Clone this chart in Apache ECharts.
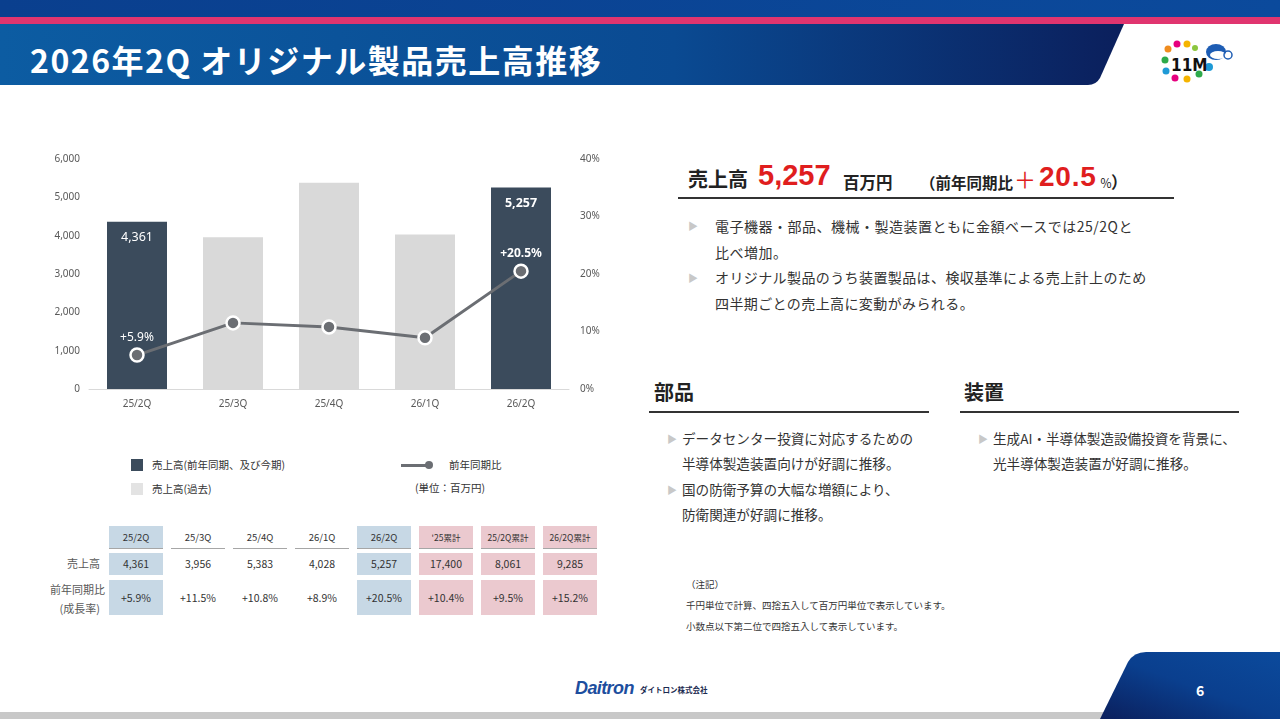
<!DOCTYPE html>
<html>
<head>
<meta charset="utf-8">
<script src="https://cdn.jsdelivr.net/npm/echarts@6/dist/echarts.min.js"></script>
<style>
  body { margin:0; width:1280px; height:719px; position:relative; overflow:hidden; background:#fff;
         font-family:"Noto Sans CJK JP","Noto Sans",sans-serif; color:#333; }
  .abs { position:absolute; white-space:nowrap; }
  #chart { position:absolute; left:0; top:0; width:640px; height:420px; }
  .tri { color:#c8c8c8; font-size:10px; }
  .cell { position:absolute; width:54px; text-align:center; color:#333; }
  .red { color:#e01e1e; font-family:'Liberation Sans','Noto Sans',sans-serif; }
</style>
</head>
<body>
<!-- header -->
<div class="abs" style="left:0;top:0;width:1280px;height:17px;background:linear-gradient(90deg,#0a3f8e,#0b4a9c);"></div>
<div class="abs" style="left:0;top:17px;width:1280px;height:7px;background:#e0356f;"></div>
<svg class="abs" style="left:0;top:24px" width="1130" height="62">
  <defs><linearGradient id="tg" x1="0" x2="1" y1="0" y2="0">
    <stop offset="0" stop-color="#0c5ca2"/><stop offset="0.6" stop-color="#0a4a92"/><stop offset="1" stop-color="#0b1f5c"/>
  </linearGradient></defs>
  <path d="M0,0 L1124,0 L1100,54 Q1096,61 1088,61 L0,61 Z" fill="url(#tg)"/>
</svg>
<div class="abs" style="left:30px;top:36px;font-size:32px;font-weight:bold;color:#fff;letter-spacing:1.5px;">2026年2Q オリジナル製品売上高推移</div>
<!-- logo -->
<svg class="abs" style="left:1158px;top:38px" width="80" height="46">
  <circle cx="10" cy="11" r="3.5" fill="#f08c1e"/><circle cx="19" cy="6" r="3.5" fill="#e6007e"/>
  <circle cx="29" cy="6" r="3.5" fill="#f5b400"/><circle cx="37" cy="10" r="3" fill="#8cc63e"/>
  <circle cx="7" cy="22" r="3.5" fill="#2eaa4a"/><circle cx="8" cy="33" r="3.5" fill="#1e9ad6"/>
  <circle cx="17" cy="40" r="3.5" fill="#e6007e"/><circle cx="29" cy="41" r="3.5" fill="#f5b400"/>
  <circle cx="41" cy="36" r="3.5" fill="#2eaa4a"/><circle cx="51" cy="29" r="4" fill="#1e9ad6"/>
  <text x="13" y="33" font-size="17" font-weight="bold" fill="#111" font-family="DejaVu Sans Condensed">11M</text>
  <ellipse cx="58" cy="14" rx="10" ry="8" fill="#1e5db4"/><ellipse cx="60" cy="17" rx="8" ry="4" fill="#fff"/>
  <circle cx="70" cy="17" r="4" fill="none" stroke="#1e5db4" stroke-width="1.5"/>
</svg>

<!-- chart -->
<div id="chart"></div>

<!-- legend -->
<div class="abs" style="left:131px;top:459px;width:12px;height:12px;background:#3b4b5c;"></div>
<div class="abs" style="left:152px;top:457px;font-size:10.5px;">売上高(前年同期、及び今期)</div>
<div class="abs" style="left:131px;top:483px;width:12px;height:12px;background:#e3e3e3;"></div>
<div class="abs" style="left:152px;top:481px;font-size:10.5px;">売上高(過去)</div>
<div class="abs" style="left:401px;top:464px;width:27px;height:2.5px;background:#6b6e73;"></div>
<div class="abs" style="left:425px;top:461px;width:8px;height:8px;border-radius:50%;background:#6b6e73;"></div>
<div class="abs" style="left:449px;top:457px;font-size:10.5px;">前年同期比</div>
<div class="abs" style="left:415px;top:480px;font-size:10.5px;">(単位：百万円)</div>

<!-- table -->
<div id="table"></div>

<!-- right text -->
<div class="abs" style="left:688px;top:164px;font-size:20px;font-weight:bold;color:#222;">売上高</div>
<div class="abs red" style="left:758px;top:159px;font-size:29px;font-weight:bold;">5,257</div>
<div class="abs" style="left:843px;top:170px;font-size:16.5px;font-weight:bold;color:#222;">百万円</div>
<div class="abs" style="left:920px;top:171px;font-size:15.5px;font-weight:bold;color:#222;">（前年同期比</div>
<div class="abs" style="left:1014px;top:162px;font-size:22px;color:#e01e1e;">＋</div>
<div class="abs red" style="left:1039px;top:161px;font-size:28px;font-weight:bold;letter-spacing:0.8px;">20.5</div>
<div class="abs" style="left:1100px;top:174px;font-size:12px;color:#222;">％</div>
<div class="abs" style="left:1111px;top:170px;font-size:16.5px;font-weight:bold;color:#222;">）</div>
<div class="abs" style="left:678px;top:197px;width:496px;height:2px;background:#333;"></div>

<div class="abs tri" style="left:688px;top:218px;">▶</div>
<div class="abs" style="left:715px;top:214px;font-size:14px;letter-spacing:0.5px;line-height:25.7px;">電子機器・部品、機械・製造装置ともに金額ベースでは25/2Qと<br>比べ増加。</div>
<div class="abs tri" style="left:688px;top:270px;">▶</div>
<div class="abs" style="left:715px;top:265px;font-size:14px;letter-spacing:0.4px;line-height:25.7px;">オリジナル製品のうち装置製品は、検収基準による売上計上のため<br>四半期ごとの売上高に変動がみられる。</div>

<div class="abs" style="left:654px;top:377px;font-size:20px;font-weight:bold;color:#222;">部品</div>
<div class="abs" style="left:649px;top:411px;width:280px;height:2px;background:#333;"></div>
<div class="abs" style="left:964px;top:377px;font-size:20px;font-weight:bold;color:#222;">装置</div>
<div class="abs" style="left:960px;top:411px;width:279px;height:2px;background:#333;"></div>

<div class="abs tri" style="left:667px;top:431px;">▶</div>
<div class="abs" style="left:682px;top:426px;font-size:13.6px;line-height:25.3px;">データセンター投資に対応するための<br>半導体製造装置向けが好調に推移。</div>
<div class="abs tri" style="left:667px;top:482px;">▶</div>
<div class="abs" style="left:682px;top:477px;font-size:13.6px;line-height:25.3px;">国の防衛予算の大幅な増額により、<br>防衛関連が好調に推移。</div>
<div class="abs tri" style="left:978px;top:431px;">▶</div>
<div class="abs" style="left:993px;top:426px;font-size:13.6px;line-height:25.3px;">生成AI・半導体製造設備投資を背景に、<br>光半導体製造装置が好調に推移。</div>

<div class="abs" style="left:686px;top:574px;font-size:9.5px;line-height:21px;color:#333;">（注記）<br>千円単位で計算、四捨五入して百万円単位で表示しています。<br>小数点以下第二位で四捨五入して表示しています。</div>

<!-- footer -->
<div class="abs" style="left:0;top:712px;width:1140px;height:7px;background:#c8c8c8;"></div>
<svg class="abs" style="left:1090px;top:650px" width="190" height="69">
  <defs><linearGradient id="fg" x1="0" x2="1" y1="1" y2="0">
    <stop offset="0" stop-color="#0b1f5c"/><stop offset="0.5" stop-color="#0a3f8e"/><stop offset="1" stop-color="#0b4a9c"/>
  </linearGradient></defs>
  <path d="M10,69 L38,12 Q44,2 56,2 L190,2 L190,69 Z" fill="url(#fg)"/>
</svg>
<div class="abs" style="left:1196px;top:680px;font-size:14px;font-weight:bold;color:#fff;">6</div>
<div class="abs" style="left:575px;top:678px;font-size:18px;font-weight:bold;font-style:italic;color:#1d4e9e;font-family:'Liberation Sans',sans-serif;letter-spacing:-0.6px;">Daitron</div>
<div class="abs" style="left:640px;top:684px;font-size:7.5px;color:#1a2a50;font-weight:bold;">ダイトロン株式会社</div>

<script>
const quarters = ['25/2Q', '25/3Q', '25/4Q', '26/1Q', '26/2Q']
const sales = [4361, 3956, 5383, 4028, 5257]
const growth = [5.9, 11.5, 10.8, 8.9, 20.5]
const highlighted = [true, false, false, false, true]
const cumLabels = ["'25累計", '25/2Q累計', '26/2Q累計']
const cumSales = [17400, 8061, 9285]
const cumGrowth = [10.4, 9.5, 15.2]

const DARK = '#3b4b5c', LIGHT = '#d9d9d9', LINE = '#6b6e73'
const fmt = v => v.toLocaleString('en-US')
const pct = v => '+' + v.toFixed(1) + '%'

// Initialize the echarts instance
let myChart = echarts.init(document.getElementById('chart'))

const barData = sales.map((v, i) => ({
  value: v,
  itemStyle: { color: highlighted[i] ? DARK : LIGHT },
  label: {
    show: highlighted[i],
    fontWeight: i == sales.length - 1 ? 'bold' : 'normal'
  }
}))

const lineData = growth.map((v, i) => ({
  value: v,
  label: {
    show: i == 0 || i == growth.length - 1,
    fontWeight: i == growth.length - 1 ? 'bold' : 'normal'
  }
}))

const axisLabel = { color: '#595959', fontSize: 10, fontFamily: 'Noto Sans' }

let option = {
  animation: false,
  grid: { left: 89, top: 159, width: 480, height: 230 },
  xAxis: {
    type: 'category',
    data: quarters,
    axisLine: { lineStyle: { color: '#d9d9d9' } },
    axisTick: { show: false },
    axisLabel: { ...axisLabel, margin: 10 }
  },
  yAxis: [
    {
      type: 'value', min: 0, max: 6000, interval: 1000,
      splitLine: { show: false },
      axisLabel: { ...axisLabel, margin: 9, formatter: v => fmt(v) }
    },
    {
      type: 'value', min: 0, max: 40, interval: 10,
      splitLine: { show: false },
      axisLabel: { ...axisLabel, margin: 11, formatter: '{value}%' }
    }
  ],
  series: [
    {
      type: 'bar',
      data: barData,
      barWidth: 60,
      label: {
        position: 'insideTop', distance: 9, color: '#fff', fontSize: 12.5,
        fontFamily: 'Noto Sans', formatter: p => fmt(p.value)
      }
    },
    {
      type: 'line',
      yAxisIndex: 1,
      data: lineData,
      symbol: 'circle',
      symbolSize: 13,
      lineStyle: { color: LINE, width: 3 },
      itemStyle: { color: LINE, borderColor: '#fff', borderWidth: 2.5 },
      label: {
        position: 'top', distance: 4, color: '#fff', fontSize: 12,
        fontFamily: 'Noto Sans', formatter: p => pct(p.value)
      }
    }
  ]
}
myChart.setOption(option)

// table under the chart
const cols = quarters.map((q, i) => ({ head: q, sales: sales[i], growth: growth[i], bg: highlighted[i] ? '#c7d8e5' : '' }))
  .concat(cumLabels.map((q, i) => ({ head: q, sales: cumSales[i], growth: cumGrowth[i], bg: '#ebc9cf' })))

let html = `
  <div class="abs" style="left:56px;top:555px;width:44px;text-align:right;font-size:11px;color:#595959;">売上高</div>
  <div class="abs" style="left:50px;top:580px;width:50px;text-align:right;font-size:11px;color:#595959;line-height:19px;">前年同期比<br>(成長率)</div>
`
cols.map((c, i) => {
  const x = 109 + i * 62
  const small = c.head.indexOf('累計') >= 0
  html += `
    <div class="cell" style="left:${x}px;top:526px;height:22px;line-height:22px;background:${c.bg};font-size:${small ? 8.5 : 9.5}px;">${c.head}</div>
    <div class="cell" style="left:${x}px;top:548px;height:1px;background:#a6a6a6;"></div>
    <div class="cell" style="left:${x}px;top:553px;height:22px;line-height:22px;background:${c.bg};font-size:10.5px;">${fmt(c.sales)}</div>
    <div class="cell" style="left:${x}px;top:580px;height:35px;line-height:35px;background:${c.bg};font-size:10.5px;">${pct(c.growth)}</div>
  `
})
document.getElementById('table').innerHTML = html
</script>
</body>
</html>
